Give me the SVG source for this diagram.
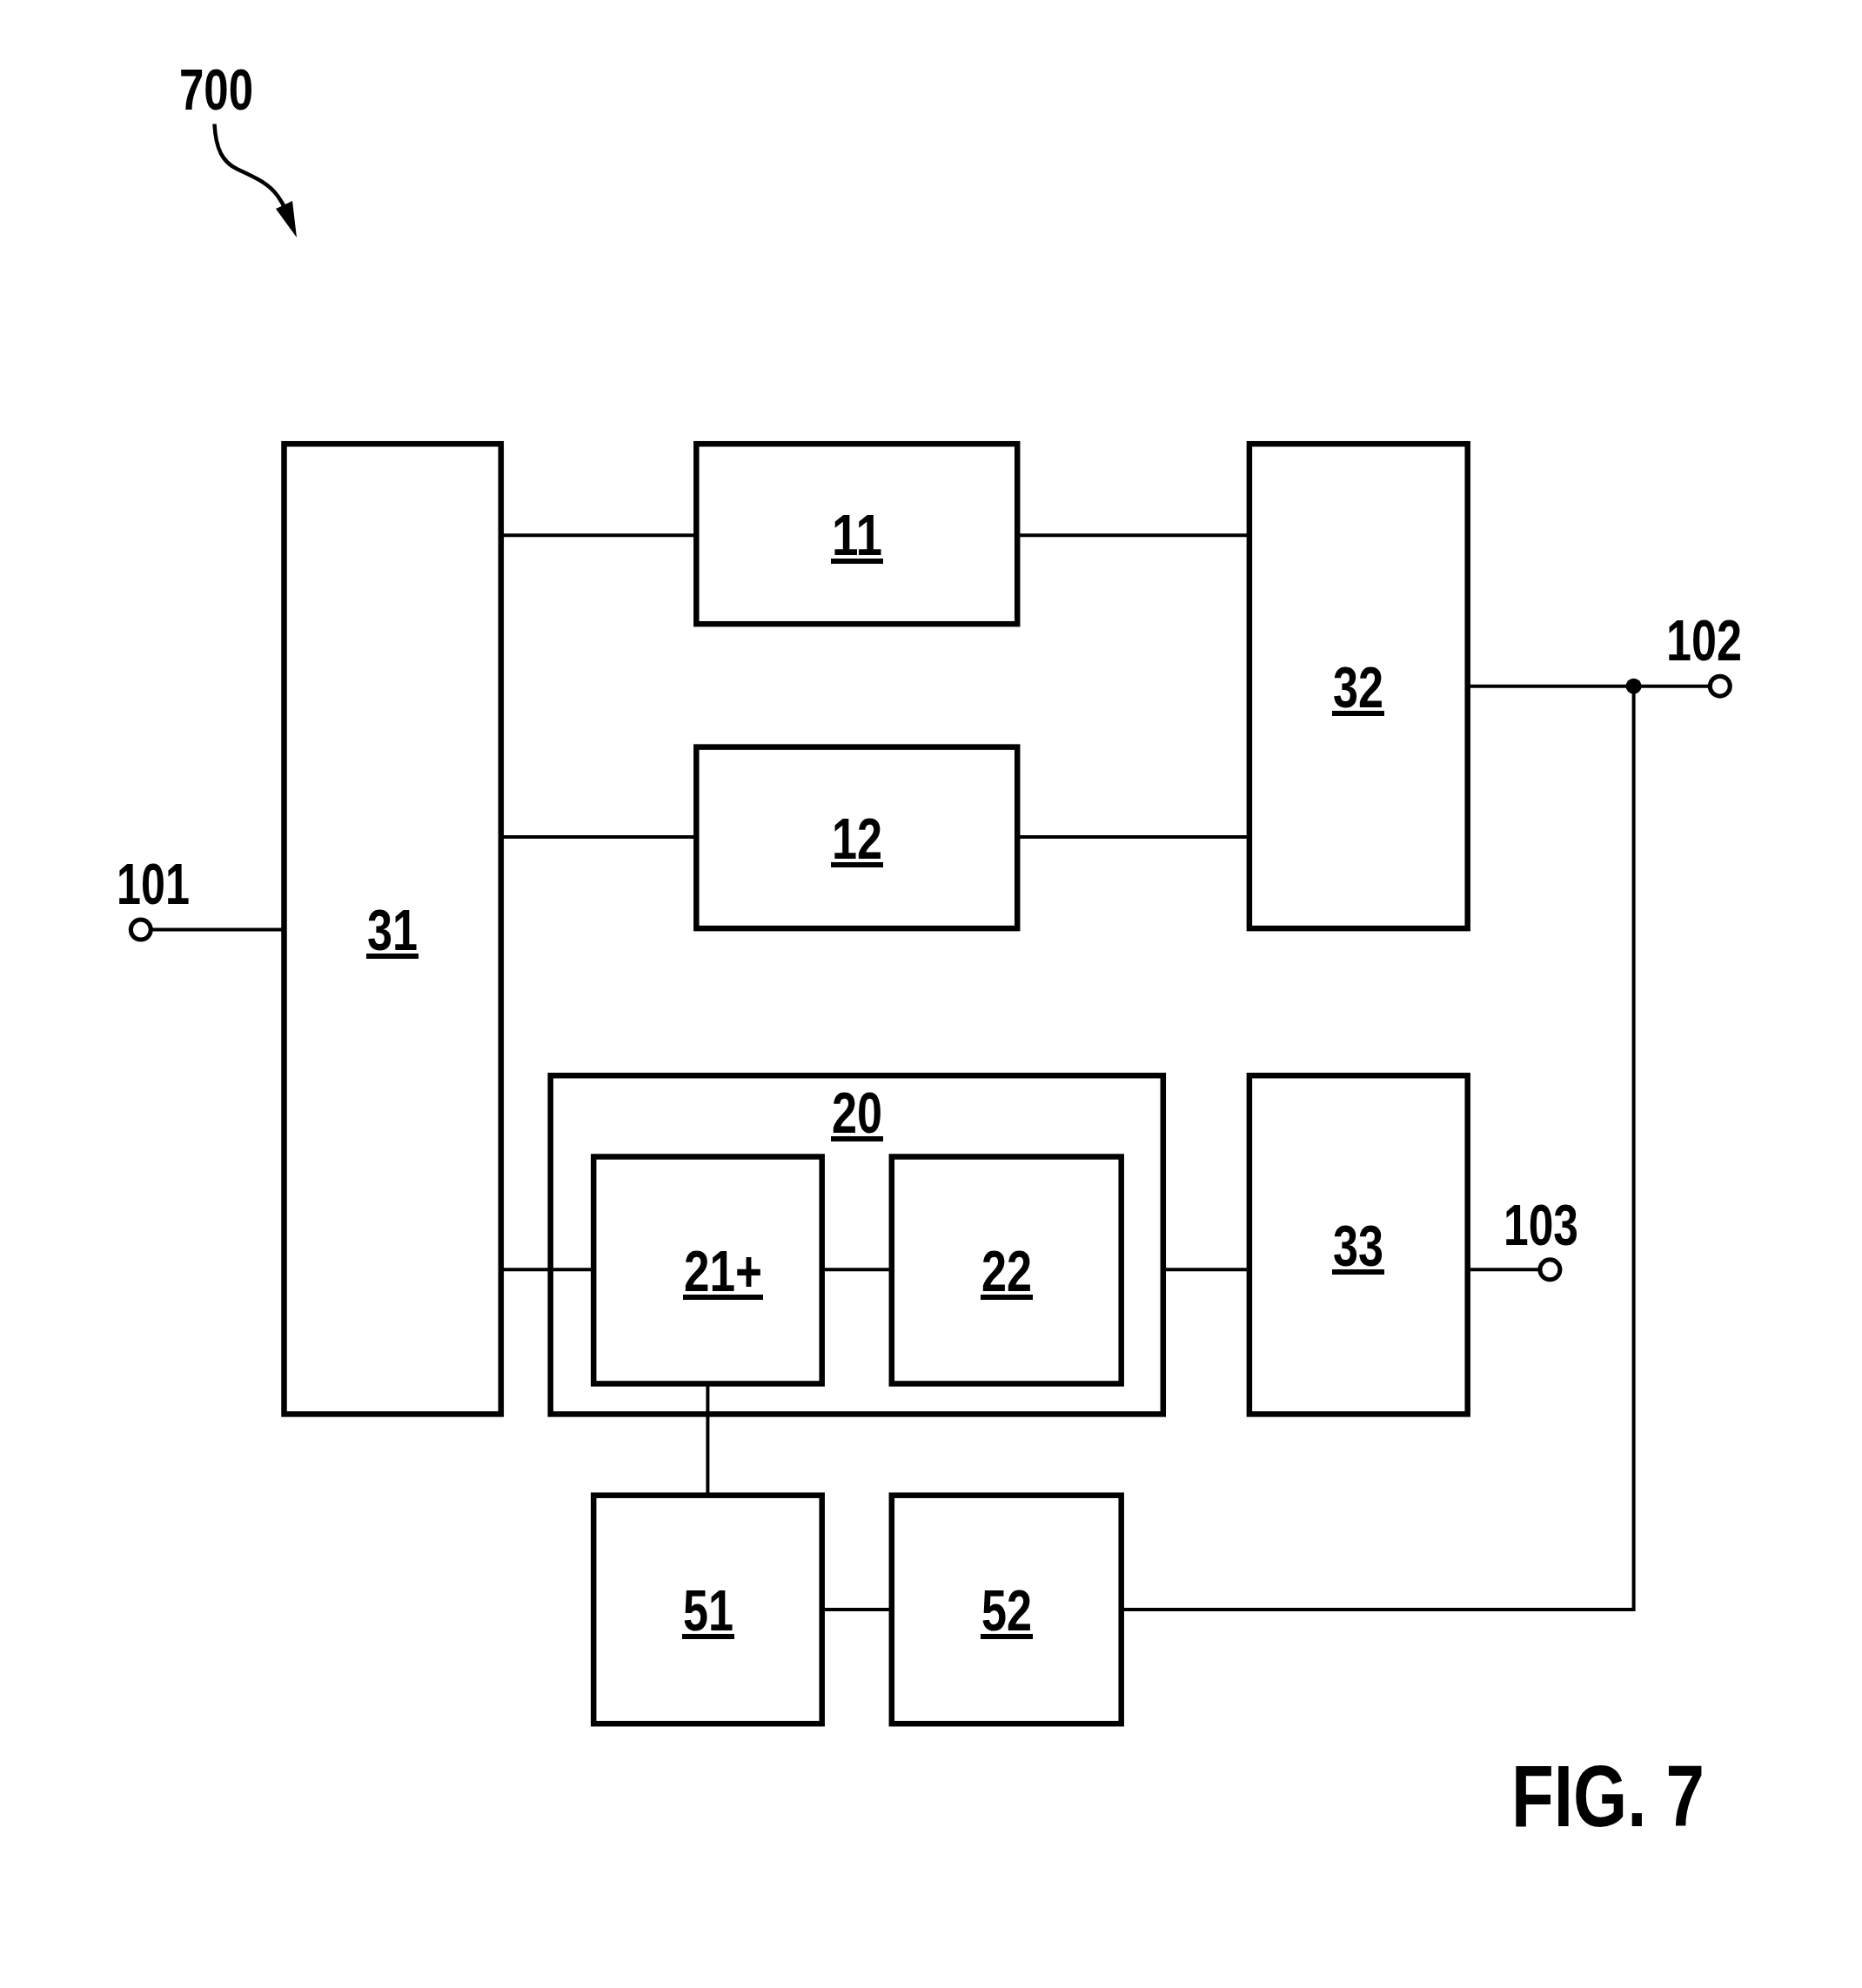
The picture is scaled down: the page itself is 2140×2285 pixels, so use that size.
<svg xmlns="http://www.w3.org/2000/svg" width="2140" height="2285" viewBox="0 0 2140 2285">
<style>
.box{fill:none;stroke:#000;stroke-width:6.5;stroke-linejoin:miter}
.wire{fill:none;stroke:#000;stroke-width:4}
.term{fill:#fff;stroke:#000;stroke-width:5}
.lbl{font-family:"Liberation Sans Narrow","Liberation Sans",Arial,sans-serif;font-weight:bold;font-size:67px;fill:#000}
.ul{fill:#000}
.fig{font-family:"Liberation Sans",Arial,sans-serif;font-weight:bold;font-size:100px;fill:#000}
</style>
<rect width="2140" height="2285" fill="#fff"/>

<g id="ref700">
<text class="lbl" x="206" y="126" textLength="85" lengthAdjust="spacingAndGlyphs">700</text>
<path d="M246.5,142.5 C248,172 256,186 272,194 C292,204 307,209 319,225 C323,231 326,236 328,240" fill="none" stroke="#000" stroke-width="4.5"/>
<polygon points="317,240 336,231 341,273" fill="#000"/>
</g>

<g id="connectors">
<line class="wire" x1="173" y1="1068.6" x2="326.5" y2="1068.6"/>
<line class="wire" x1="575.8" y1="615.2" x2="800.3" y2="615.2"/>
<line class="wire" x1="1169.2" y1="615.2" x2="1435.9" y2="615.2"/>
<line class="wire" x1="575.8" y1="962.1" x2="800.3" y2="962.1"/>
<line class="wire" x1="1169.2" y1="962.1" x2="1435.9" y2="962.1"/>
<line class="wire" x1="1686.7" y1="788.7" x2="1965.5" y2="788.7"/>
<line class="wire" x1="575.8" y1="1459.3" x2="682.2" y2="1459.3"/>
<line class="wire" x1="944.7" y1="1459.3" x2="1024.8" y2="1459.3"/>
<line class="wire" x1="1336.8" y1="1459.3" x2="1435.9" y2="1459.3"/>
<line class="wire" x1="1686.7" y1="1459.3" x2="1770" y2="1459.3"/>
<line class="wire" x1="813.4" y1="1590.4" x2="813.4" y2="1718.7"/>
<line class="wire" x1="944.7" y1="1850" x2="1024.8" y2="1850"/>
<polyline class="wire" points="1288.7,1850 1877.6,1850 1877.6,788.7"/>
<circle cx="1877.6" cy="788.7" r="9" fill="#000"/>
</g>

<g id="t101">
<circle class="term" cx="161.8" cy="1068.6" r="11.5"/>
<text class="lbl" x="134" y="1039" textLength="84" lengthAdjust="spacingAndGlyphs">101</text>
</g>
<g id="t102">
<circle class="term" cx="1976.8" cy="788.7" r="11.5"/>
<text class="lbl" x="1915" y="759" textLength="87" lengthAdjust="spacingAndGlyphs">102</text>
</g>
<g id="t103">
<circle class="term" cx="1781.4" cy="1459.3" r="11.5"/>
<text class="lbl" x="1728" y="1431" textLength="86" lengthAdjust="spacingAndGlyphs">103</text>
</g>

<g id="n31">
<rect class="box" x="326.5" y="510.2" width="249.3" height="1115.2"/>
<text class="lbl" x="422" y="1092" textLength="58" lengthAdjust="spacingAndGlyphs">31</text>
<rect class="ul" x="421" y="1096" width="60" height="6"/>
</g>
<g id="n11">
<rect class="box" x="800.3" y="510.2" width="368.9" height="207"/>
<text class="lbl" x="956" y="638" textLength="58" lengthAdjust="spacingAndGlyphs">11</text>
<rect class="ul" x="955" y="642" width="60" height="6"/>
</g>
<g id="n12">
<rect class="box" x="800.3" y="858.6" width="368.9" height="208.5"/>
<text class="lbl" x="956" y="987" textLength="58" lengthAdjust="spacingAndGlyphs">12</text>
<rect class="ul" x="955" y="991" width="60" height="6"/>
</g>
<g id="n32">
<rect class="box" x="1435.9" y="510.2" width="250.8" height="556.9"/>
<text class="lbl" x="1532" y="813" textLength="58" lengthAdjust="spacingAndGlyphs">32</text>
<rect class="ul" x="1531" y="817" width="60" height="6"/>
</g>
<g id="n20">
<rect class="box" x="632.7" y="1236.2" width="704.1" height="389.2"/>
<text class="lbl" x="956" y="1302" textLength="58" lengthAdjust="spacingAndGlyphs">20</text>
<rect class="ul" x="955" y="1306" width="60" height="6"/>
</g>
<g id="n21">
<rect class="box" x="682.2" y="1329.5" width="262.5" height="260.9"/>
<text class="lbl" x="786" y="1484" textLength="90" lengthAdjust="spacingAndGlyphs">21+</text>
<rect class="ul" x="785" y="1488" width="92" height="6"/>
</g>
<g id="n22">
<rect class="box" x="1024.8" y="1329.5" width="263.9" height="260.9"/>
<text class="lbl" x="1128" y="1484" textLength="58" lengthAdjust="spacingAndGlyphs">22</text>
<rect class="ul" x="1127" y="1488" width="60" height="6"/>
</g>
<g id="n33">
<rect class="box" x="1435.9" y="1236.2" width="250.8" height="389.2"/>
<text class="lbl" x="1532" y="1455" textLength="58" lengthAdjust="spacingAndGlyphs">33</text>
<rect class="ul" x="1531" y="1459" width="60" height="6"/>
</g>
<g id="n51">
<rect class="box" x="682.2" y="1718.7" width="262.5" height="262.5"/>
<text class="lbl" x="785" y="1874" textLength="58" lengthAdjust="spacingAndGlyphs">51</text>
<rect class="ul" x="784" y="1878" width="60" height="6"/>
</g>
<g id="n52">
<rect class="box" x="1024.8" y="1718.7" width="263.9" height="262.5"/>
<text class="lbl" x="1128" y="1874" textLength="58" lengthAdjust="spacingAndGlyphs">52</text>
<rect class="ul" x="1127" y="1878" width="60" height="6"/>
</g>

<text class="fig" x="1737" y="2099" textLength="222" lengthAdjust="spacingAndGlyphs">FIG. 7</text>
</svg>
